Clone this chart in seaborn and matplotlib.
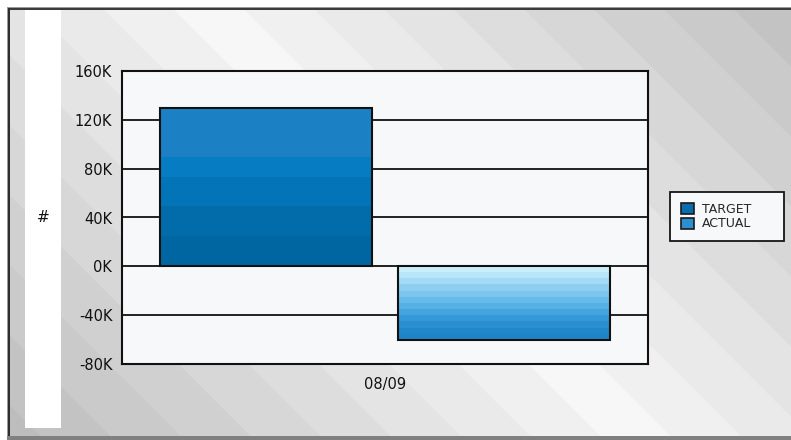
import numpy as np
import pandas as pd
import matplotlib
matplotlib.use("Agg")
import matplotlib.pyplot as plt
from matplotlib.patches import Rectangle, Patch
from matplotlib.colors import to_rgb
import seaborn as sns

# ---- data ----
categories = ["08/09"]
series_names = ["TARGET", "ACTUAL"]
target_values = [130000]
actual_values = [-60000]
y_ticks = [-80000, -40000, 0, 40000, 80000, 120000, 160000]
y_tick_labels = ["-80K", "-40K", "0K", "40K", "80K", "120K", "160K"]

df = pd.DataFrame({
    "period": categories * 2,
    "series": [series_names[0]] * len(categories) + [series_names[1]] * len(categories),
    "value": target_values + actual_values,
})

# ---- style ----
sns.set_style("white")
plt.rcParams["font.family"] = ["DejaVu Sans"]

W, H = 791, 440
fig = plt.figure(figsize=(W / 100, H / 100), dpi=100)
fig.patch.set_facecolor("white")

# ---- striped grey backdrop (pixel coordinates) ----
bg = fig.add_axes([0, 0, 1, 1], zorder=0)
bg.set_xlim(0, W)
bg.set_ylim(H, 0)
bg.axis("off")
xx, yy = np.meshgrid(np.arange(W) + 0.5, np.arange(H) + 0.5)
diag = xx - yy
band = np.floor((diag - 200) / 70 + 0.5) * 70
shade = np.clip(0.97 - 0.00036 * np.abs(band), 0.74, 1.0)
bg.imshow(np.dstack([shade] * 3), extent=(0, W, H, 0),
          interpolation="nearest", aspect="auto", zorder=0)
# white margin outside the frame
bg.add_patch(Rectangle((0, 0), W, 7, facecolor="white", edgecolor="none", zorder=1))
bg.add_patch(Rectangle((0, 0), 7, H, facecolor="white", edgecolor="none", zorder=1))
# frame edges
bg.add_patch(Rectangle((7, 7), W, 1.2, facecolor="#9a9a9a", edgecolor="none", zorder=2))
bg.add_patch(Rectangle((7, 8.2), W, 2.0, facecolor="#3c3c3c", edgecolor="none", zorder=2))
bg.add_patch(Rectangle((7, 7), 1.2, H, facecolor="#9a9a9a", edgecolor="none", zorder=2))
bg.add_patch(Rectangle((8.2, 8.2), 2.0, H, facecolor="#2e2e2e", edgecolor="none", zorder=2))
bg.add_patch(Rectangle((7, 436), W, 4, facecolor="#808080", edgecolor="none", zorder=2))
# white strip for the axis title
bg.add_patch(Rectangle((25, 10.2), 36, 418, facecolor="white", edgecolor="none", zorder=2))
# legend box
bg.add_patch(Rectangle((669.5, 192.5), 114, 49, facecolor="#f7f8fa",
                       edgecolor="#151515", linewidth=1.3, zorder=3))

# ---- main chart ----
ax = fig.add_axes([122 / W, 1 - 364 / H, (648 - 122) / W, (364 - 71) / H], zorder=2)
ax.set_facecolor("#f7f8fa")
sns.barplot(data=df, x="period", y="value", hue="series",
            hue_order=series_names, palette=["#0a6cad", "#2b8fd0"],
            width=0.908, gap=0.112, legend=False, ax=ax,
            edgecolor="#111111", linewidth=1.5, zorder=3)

target_grad = (["#1c80c4"] * 5 + ["#067dc2"] * 2 + ["#0374b7"] * 3
               + ["#016ca9"] * 3 + ["#0066a1"] * 3)
actual_grad = ["#cbeefb", "#b8e5f8", "#a3daf4", "#8ecff1", "#7bc5ee", "#67bbea",
               "#55b0e4", "#44a4de", "#3599d7", "#2a8ed0", "#2187cb", "#1e83c8"]

for patch, grad in zip(ax.patches, [target_grad, actual_grad]):
    x0, w = patch.get_x(), patch.get_width()
    y0, h = patch.get_y(), patch.get_height()
    lo, hi = min(y0, y0 + h), max(y0, y0 + h)
    arr = np.array([to_rgb(c) for c in grad])[:, None, :]
    im = ax.imshow(arr, extent=(x0, x0 + w, lo, hi), origin="upper",
                   aspect="auto", interpolation="nearest", zorder=3)
    im.set_clip_path(patch)
    patch.set_facecolor("none")
    patch.set_zorder(4)

ax.set_xlim(-0.5, 0.5)
ax.set_ylim(-80000, 160000)
ax.set_yticks(y_ticks)
ax.set_yticklabels(y_tick_labels)
ax.yaxis.grid(True, color="#111111", linewidth=1.3)
ax.xaxis.grid(False)
ax.set_axisbelow(True)
ax.tick_params(axis="both", length=0, labelsize=10.5, colors="#111111")
ax.tick_params(axis="y", pad=7)
ax.tick_params(axis="x", pad=9)
ax.set_xlabel("")
ax.set_ylabel("")
for s in ax.spines.values():
    s.set_visible(True)
    s.set_color("#111111")
    s.set_linewidth(1.5)

fig.text(43 / W, 1 - 217 / H, "#", ha="center", va="center",
         fontsize=11, color="#111111")

handles = [Patch(facecolor="#0a6cad", edgecolor="#1a1a1a", linewidth=1.2),
           Patch(facecolor="#2b8fd0", edgecolor="#1a1a1a", linewidth=1.2)]
fig.legend(handles, series_names, loc="center left",
           bbox_to_anchor=(681 / W, 1 - 216.5 / H), frameon=False,
           borderpad=0, borderaxespad=0, handlelength=1.0, handleheight=1.0,
           handletextpad=0.7, labelspacing=0.15,
           prop={"size": 9})

fig.savefig("out.png", dpi=100)
